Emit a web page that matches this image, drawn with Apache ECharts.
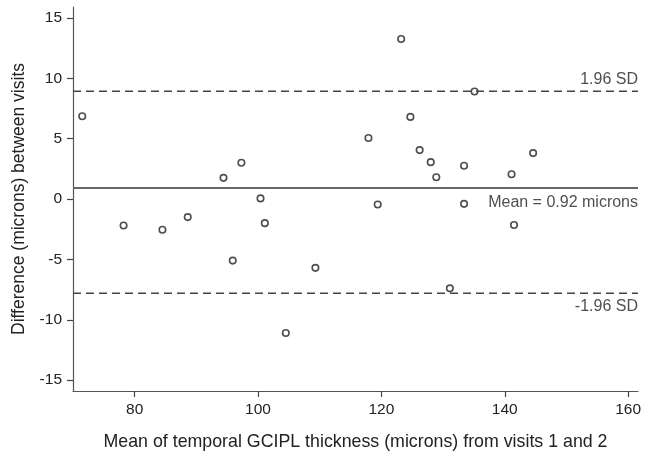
<!DOCTYPE html>
<html>
<head>
<meta charset="utf-8">
<script src="https://cdn.jsdelivr.net/npm/echarts@6/dist/echarts.min.js"></script>
<style>html,body{margin:0;padding:0;background:#fff}#c{width:648px;height:459px}</style>
</head>
<body>
<div id="c"></div>
<script>
// Data
const meanThickness = [71.5, 78.2, 84.5, 88.6, 94.4, 95.9, 97.3, 100.4, 101.1, 104.5, 109.3, 117.9, 119.4, 123.2, 124.7, 126.2, 128.0, 128.9, 131.1, 133.4, 133.4, 135.1, 141.1, 141.5, 144.6];
const difference    = [6.85, -2.2, -2.55, -1.5, 1.75, -5.1, 3.0, 0.05, -2.0, -11.1, -5.7, 5.05, -0.45, 13.25, 6.8, 4.05, 3.05, 1.8, -7.4, 2.75, -0.4, 8.9, 2.05, -2.15, 3.8];
const meanDiff = 0.92;
const upperLoA = 8.92;
const lowerLoA = -7.8;
const xTicks = [80, 100, 120, 140, 160];
const yTicks = [-15, -10, -5, 0, 5, 10, 15];
const xLabel = 'Mean of temporal GCIPL thickness (microns) from visits 1 and 2';
const yLabel = 'Difference (microns) between visits';

const font = 'Liberation Sans, Arial, sans-serif';
const chart = echarts.init(document.getElementById('c'));
const xMin = 70, xMax = 161.6;
const pts = meanThickness.map((x, i) => [x, difference[i]]);
chart.setOption({
  animation: false,
  grid: {left: 73, right: 10, top: 7, bottom: 68, containLabel: false},
  xAxis: {
    type: 'value', min: xMin, max: xMax,
    name: xLabel, nameLocation: 'middle', nameGap: 42,
    nameTextStyle: {fontFamily: font, fontSize: 17.8, color: '#222'},
    axisLine: {show: true, onZero: false, lineStyle: {color: '#555', width: 1.2}},
    axisTick: {show: true, length: 6, customValues: xTicks, lineStyle: {color: '#444', width: 1.2}},
    axisLabel: {customValues: xTicks, fontFamily: font, fontSize: 15.5, color: '#222', margin: 11},
    splitLine: {show: false}
  },
  yAxis: {
    type: 'value', min: -15.9, max: 15.9,
    name: yLabel, nameLocation: 'middle', nameGap: 45, nameRotate: 90,
    nameTextStyle: {fontFamily: font, fontSize: 17.5, color: '#222'},
    axisLine: {show: true, onZero: false, lineStyle: {color: '#555', width: 1.2}},
    axisTick: {show: true, length: 6, customValues: yTicks, lineStyle: {color: '#444', width: 1.2}},
    axisLabel: {customValues: yTicks, fontFamily: font, fontSize: 15.5, color: '#222', margin: 11},
    splitLine: {show: false}
  },
  series: [
    {
      type: 'line', data: [[xMin, upperLoA], [xMax, upperLoA]], symbol: 'none',
      lineStyle: {color: '#444', width: 1.6, type: [8, 5]}, silent: true
    },
    {
      type: 'line', data: [[xMin, lowerLoA], [xMax, lowerLoA]], symbol: 'none',
      lineStyle: {color: '#444', width: 1.6, type: [8, 5]}, silent: true
    },
    {
      type: 'line', data: [[xMin, meanDiff], [xMax, meanDiff]], symbol: 'none',
      lineStyle: {color: '#666', width: 2}, silent: true
    },
    {
      type: 'scatter', data: pts, symbol: 'circle', symbolSize: 6.5,
      itemStyle: {color: '#fff', borderColor: '#222', borderWidth: 1.6}
    },
    {
      type: 'scatter', symbolSize: 0,
      data: [
        {value: [xMax, upperLoA], label: {formatter: '1.96 SD', offset: [0, -12]}},
        {value: [xMax, meanDiff], label: {formatter: 'Mean = 0.92 microns', offset: [0, 15]}},
        {value: [xMax, lowerLoA], label: {formatter: '-1.96 SD', offset: [0, 13]}}
      ],
      label: {show: true, position: 'left', distance: 0, fontFamily: font, fontSize: 16, color: '#222'},
      silent: true
    }
  ]
});
</script>
</body>
</html>
